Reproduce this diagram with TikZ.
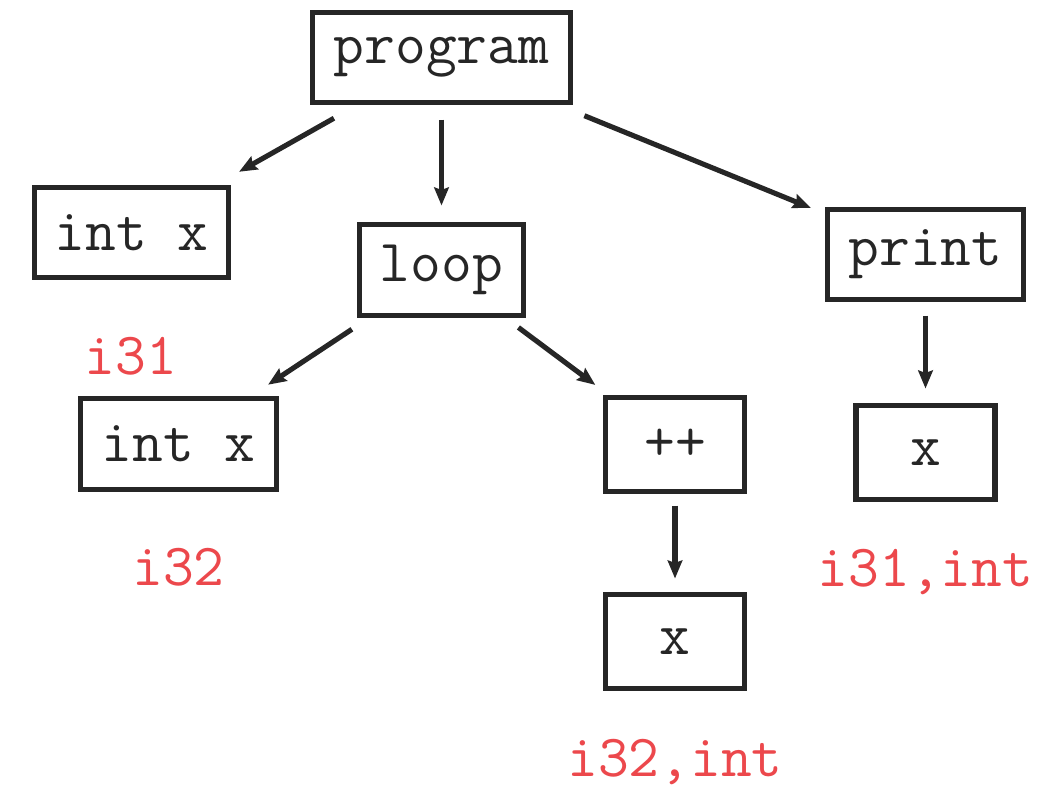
\documentclass[tikz,border=0pt]{standalone}
\usepackage{tikz}
\usetikzlibrary{positioning,arrows.meta}
\definecolor{InkGray}{RGB}{38,38,38}
\definecolor{TypeRed}{RGB}{236,72,76}
\tikzset{
  flow/.style={-{Stealth[length=1.8mm,width=1.45mm,inset=0.25mm]},line width=1.45pt,draw=InkGray},
  astbox/.style={draw=InkGray,line width=1.45pt,inner sep=0pt,outer sep=0pt,
    minimum height=0.90cm,text=InkGray,font=\fontsize{17}{20}\selectfont\ttfamily},
  typetag/.style={inner sep=0pt,outer sep=0pt,text=TypeRed,
    font=\fontsize{17}{20}\selectfont\ttfamily}
}
\begin{document}
\begin{tikzpicture}
  \useasboundingbox (0,0) rectangle (10.57,-7.90);
  \node[astbox,minimum width=2.58cm] (program) at (4.415,-0.575) {program};
  \node[astbox,below=0.85cm of program,xshift=-3.10cm,minimum width=1.94cm] (decl) {int x};
  \node[astbox,below=1.22cm of program,minimum width=1.64cm,minimum height=0.91cm] (loop) {loop};
  \node[astbox,below=1.07cm of program,xshift=4.84cm,minimum width=1.96cm] (print) {print};
  \node[astbox,below=0.83cm of loop,xshift=-2.63cm,minimum width=1.96cm,minimum height=0.91cm] (inner) {int x};
  \node[astbox,below=0.82cm of loop,xshift=2.335cm,minimum width=1.39cm,minimum height=0.94cm] (incr) {++};
  \node[astbox,below=1.03cm of incr,minimum width=1.39cm,minimum height=0.94cm] (incrx) {x};
  \node[astbox,below=1.06cm of print,minimum width=1.39cm,minimum height=0.94cm] (printx) {x};
  % type annotations
  \node[typetag,above=0.23cm of inner,xshift=-0.475cm] (t31) {i31};
  \node[typetag,below=0.59cm of inner] (t32) {i32};
  \node[typetag,below=0.50cm of printx] (t31int) {i31,int};
  \node[typetag,below=0.51cm of incrx] (t32int) {i32,int};
  \draw[flow,shorten <=0.32cm,shorten >=0.32cm] (program) -- (decl);
  \draw[flow,shorten <=0.17cm,shorten >=0.19cm] (program) -- (loop);
  \draw[flow,shorten <=0.35cm,shorten >=0.18cm] (program) -- (print);
  \draw[flow,shorten <=0.25cm,shorten >=0.25cm] (loop) -- (inner);
  \draw[flow,shorten <=0.20cm,shorten >=0.21cm] (loop) -- (incr);
  \draw[flow,shorten <=0.14cm,shorten >=0.16cm] (incr) -- (incrx);
  \draw[flow,shorten <=0.16cm,shorten >=0.17cm] (print) -- (printx);
\end{tikzpicture}
\end{document}
